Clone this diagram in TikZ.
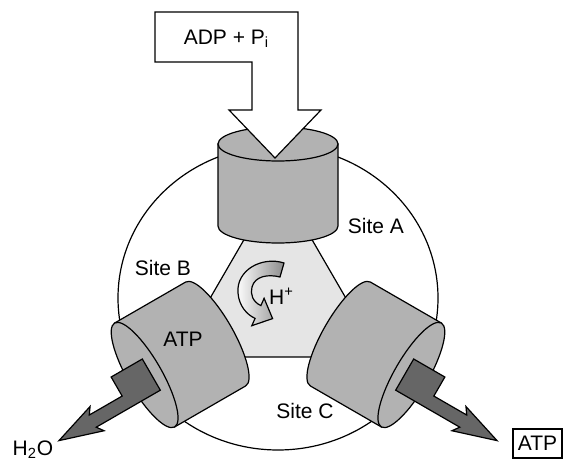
\documentclass[tikz,border=0pt]{standalone}
\usepackage{fontspec}
\setmainfont{Liberation Sans}

\begin{document}
\begin{tikzpicture}[x=0.5pt,y=0.5pt,line width=0.6pt,
    font=\fontsize{10.5}{12}\selectfont,
    barrel/.style={draw,fill=black!30},
    outlet/.style={draw,fill=black!60},
    tag/.style={inner sep=0pt}]
   \useasboundingbox (-278,-161) rectangle (288,298);
   \draw (0,0) ellipse (160 and 152);
   \draw[fill=black!10] (0,117) -- (-102,-59) -- (102,-59) -- cycle;
   % the three sites: top one, then B and C as mirror images
   \foreach \s/\r in {1/0,1/-120,-1/-120} {
     \begin{scope}[xscale=\s,rotate=\r]
       \draw[barrel] (-60,154) -- (-60,72) arc[start angle=180,end angle=360,x radius=60,y radius=17] -- (60,154) -- cycle;
       \draw[barrel] (0,154) ellipse (60 and 17);
     \end{scope}
   }
   \foreach \s in {1,-1} {
     \draw[outlet,xscale=\s,rotate=-120] (-15,148) -- (21,148) -- (21,222) -- (28,217) -- (14,261)
        -- (0,217) -- (7,222) -- (7,184) -- (-15,184) -- cycle;
   }
   % substrate going in at site A
   \draw[fill=white] (-123,286) -- (20,286) -- (20,188) -- (43,188) -- (-3,140) -- (-49,188)
      -- (-26,188) -- (-26,236) -- (-123,236) -- cycle;
   % proton turning the core
   \shadedraw[left color=white,right color=black!45] (6,35) .. controls (-16,42) and (-42,28) .. (-40,5)
      .. controls (-39,-8) and (-31.1,-16.7) .. (-22.9,-20.4) -- (-26.2,-27.7) -- (-5.4,-20.6)
      -- (-13.9,-0.3) -- (-17.1,-7.6) .. controls (-25.3,-3.9) and (-28,4) .. (-26,11)
      .. controls (-23,22) and (-10,24) .. (2,21) -- cycle;
   \node[tag,anchor=base] (adp) at (-51.5,253.5) {ADP + P\textsubscript{i}};
   \node[tag] (siteA) at (98,72) {Site A};
   \node[tag] (siteB) at (-115,30) {Site B};
   \node[tag] (siteC) at (27,-113) {Site C};
   \node[tag] (atpB) at (-95,-41) {ATP};
   \node[tag] (hplus) at (3.5,2) {H\textsuperscript{+}};
   \node[tag,anchor=base west] (water) at (-266,-157) {H\textsubscript{2}O};
   \node[draw,inner sep=1pt,minimum width=24.5pt,minimum height=14.5pt] (atp) at (259.5,-145.5) {ATP};
\end{tikzpicture}
\end{document}
